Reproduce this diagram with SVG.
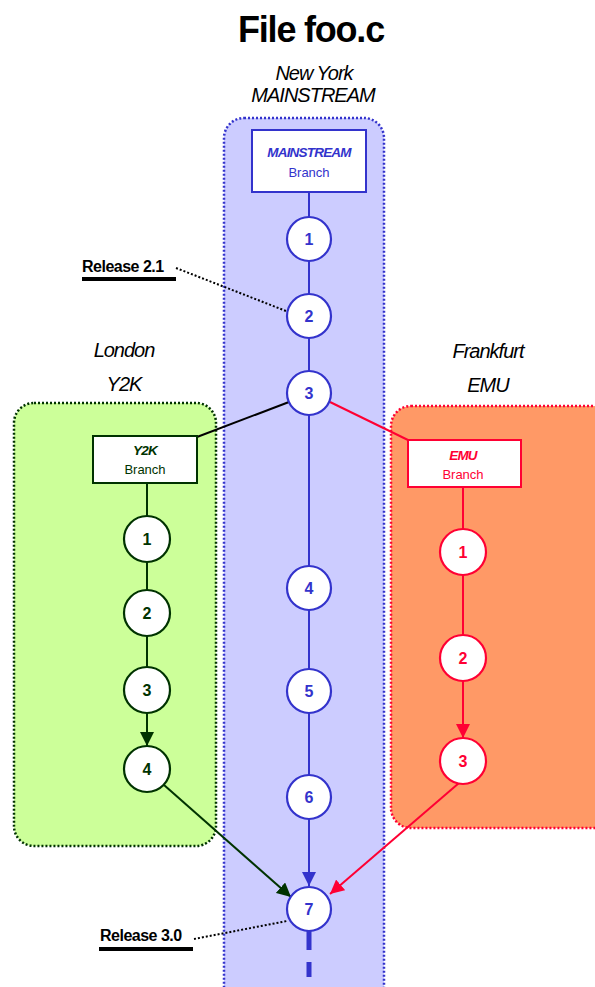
<svg xmlns="http://www.w3.org/2000/svg" width="595" height="987" viewBox="0 0 595 987">
<defs>
<style>
.t{font-family:"Liberation Sans",Arial,sans-serif}
.city{font-family:"Liberation Sans",Arial,sans-serif;font-style:italic;font-size:20px;fill:#000;text-anchor:middle;letter-spacing:-1px}
.num{font-family:"Liberation Sans",Arial,sans-serif;font-weight:bold;font-size:16px;text-anchor:middle}
.nb circle{fill:#fff;stroke:#3333cc;stroke-width:2.2}
.nb text{fill:#3333cc}
.ng circle{fill:#fff;stroke:#003300;stroke-width:2.2}
.ng text{fill:#003300}
.nr circle{fill:#fff;stroke:#ff0033;stroke-width:2.2}
.nr text{fill:#ff0033}
.rel{font-family:"Liberation Sans",Arial,sans-serif;font-weight:bold;font-size:16px;fill:#000;letter-spacing:-0.5px}
</style>
<marker id="ag" viewBox="0 0 10 10" refX="10" refY="5" markerWidth="14" markerHeight="14" orient="auto" markerUnits="userSpaceOnUse"><path d="M0,0 L10,5 L0,10 z" fill="#003300"/></marker>
<marker id="ar" viewBox="0 0 10 10" refX="10" refY="5" markerWidth="14" markerHeight="14" orient="auto" markerUnits="userSpaceOnUse"><path d="M0,0 L10,5 L0,10 z" fill="#ff0033"/></marker>
<marker id="ab2" viewBox="0 0 10 10" refX="10" refY="5" markerWidth="14" markerHeight="14" orient="auto" markerUnits="userSpaceOnUse"><path d="M0,0 L10,5 L0,10 z" fill="#3333cc"/></marker>
</defs>
<rect width="595" height="987" fill="#fff"/>

<g id="containers">
<rect x="224" y="118" width="160" height="890" rx="20" fill="#ccccff" stroke="#3333cc" stroke-width="2.5" stroke-dasharray="2,2"/>
<rect x="14" y="403" width="202" height="443" rx="20" fill="#ccff99" stroke="#003300" stroke-width="2.5" stroke-dasharray="2,2"/>
<rect x="391" y="406" width="230" height="422" rx="20" fill="#ff9966" stroke="#ff0033" stroke-width="2.5" stroke-dasharray="2,2"/>
</g>

<g id="titles">
<text x="311" y="42" class="t" font-size="36" font-weight="bold" text-anchor="middle" letter-spacing="-1.2">File foo.c</text>
<text x="314" y="80" class="city">New York</text>
<text x="313" y="102" class="city" letter-spacing="-1.5">MAINSTREAM</text>
<text x="124" y="357" class="city">London</text>
<text x="124" y="391" class="city">Y2K</text>
<text x="488" y="358" class="city">Frankfurt</text>
<text x="488" y="392" class="city">EMU</text>
</g>

<g id="connectors" fill="none" stroke-width="2">
<line x1="309" y1="191" x2="309" y2="217" stroke="#3333cc"/>
<line x1="309" y1="261" x2="309" y2="294" stroke="#3333cc"/>
<line x1="309" y1="338" x2="309" y2="371" stroke="#3333cc"/>
<line x1="309" y1="415" x2="309" y2="566" stroke="#3333cc"/>
<line x1="309" y1="610" x2="309" y2="669" stroke="#3333cc"/>
<line x1="309" y1="713" x2="309" y2="775" stroke="#3333cc"/>
<line x1="309" y1="819" x2="309" y2="886" stroke="#3333cc" marker-end="url(#ab2)"/>
<line x1="309" y1="931" x2="309" y2="950" stroke="#3333cc" stroke-width="5"/>
<line x1="309" y1="962" x2="309" y2="977" stroke="#3333cc" stroke-width="5"/>
<line x1="289" y1="402" x2="197" y2="437" stroke="#000"/>
<line x1="330" y1="402" x2="408" y2="440" stroke="#ff0033"/>
<line x1="147" y1="483" x2="147" y2="516" stroke="#003300"/>
<line x1="147" y1="562" x2="147" y2="590" stroke="#003300"/>
<line x1="147" y1="636" x2="147" y2="667" stroke="#003300"/>
<line x1="147" y1="713" x2="147" y2="746" stroke="#003300" marker-end="url(#ag)"/>
<line x1="164" y1="785" x2="291" y2="897" stroke="#003300" marker-end="url(#ag)"/>
<line x1="463" y1="488" x2="463" y2="529" stroke="#ff0033"/>
<line x1="463" y1="575" x2="463" y2="635" stroke="#ff0033"/>
<line x1="463" y1="681" x2="463" y2="738" stroke="#ff0033" marker-end="url(#ar)"/>
<line x1="459" y1="783" x2="330" y2="894" stroke="#ff0033" marker-end="url(#ar)"/>
<line x1="176" y1="268" x2="286" y2="311" stroke="#000" stroke-dasharray="2,2"/>
<line x1="194" y1="939" x2="287" y2="921" stroke="#000" stroke-dasharray="2,2"/>
</g>

<g id="release21">
<text x="82" y="272" class="rel">Release 2.1</text>
<rect x="82" y="277" width="94" height="4" fill="#000"/>
</g>
<g id="release30">
<text x="100" y="941" class="rel">Release 3.0</text>
<rect x="99" y="947" width="94" height="4" fill="#000"/>
</g>

<g id="mainstream_branch">
<rect x="252" y="130" width="114" height="62" fill="#fff" stroke="#3333cc" stroke-width="2"/>
<text x="309" y="157" class="t" font-size="13.5" font-weight="bold" font-style="italic" fill="#3333cc" text-anchor="middle" letter-spacing="-0.8">MAINSTREAM</text>
<text x="309" y="177" class="t" font-size="13" fill="#3333cc" text-anchor="middle">Branch</text>
</g>
<g id="y2k_branch">
<rect x="93" y="436" width="104" height="47" fill="#fff" stroke="#003300" stroke-width="2"/>
<text x="145" y="455" class="t" font-size="13.5" font-weight="bold" font-style="italic" fill="#003300" text-anchor="middle" letter-spacing="-0.8">Y2K</text>
<text x="145" y="474" class="t" font-size="13" fill="#003300" text-anchor="middle">Branch</text>
</g>
<g id="emu_branch">
<rect x="408" y="440" width="113" height="47" fill="#fff" stroke="#ff0033" stroke-width="2"/>
<text x="463" y="460" class="t" font-size="13.5" font-weight="bold" font-style="italic" fill="#ff0033" text-anchor="middle" letter-spacing="-0.8">EMU</text>
<text x="463" y="479" class="t" font-size="13" fill="#ff0033" text-anchor="middle">Branch</text>
</g>

<g id="m1" class="nb"><circle cx="309" cy="239" r="22"/><text x="309" y="245" class="num">1</text></g>
<g id="m2" class="nb"><circle cx="309" cy="316" r="22"/><text x="309" y="322" class="num">2</text></g>
<g id="m3" class="nb"><circle cx="309" cy="393" r="22"/><text x="309" y="399" class="num">3</text></g>
<g id="m4" class="nb"><circle cx="309" cy="588" r="22"/><text x="309" y="594" class="num">4</text></g>
<g id="m5" class="nb"><circle cx="309" cy="691" r="22"/><text x="309" y="697" class="num">5</text></g>
<g id="m6" class="nb"><circle cx="309" cy="797" r="22"/><text x="309" y="803" class="num">6</text></g>
<g id="m7" class="nb"><circle cx="309" cy="909" r="22"/><text x="309" y="915" class="num">7</text></g>

<g id="g1" class="ng"><circle cx="147" cy="539" r="23"/><text x="147" y="545" class="num">1</text></g>
<g id="g2" class="ng"><circle cx="147" cy="613" r="23"/><text x="147" y="619" class="num">2</text></g>
<g id="g3" class="ng"><circle cx="147" cy="690" r="23"/><text x="147" y="696" class="num">3</text></g>
<g id="g4" class="ng"><circle cx="147" cy="769" r="23"/><text x="147" y="775" class="num">4</text></g>

<g id="r1" class="nr"><circle cx="463" cy="552" r="23"/><text x="463" y="558" class="num">1</text></g>
<g id="r2" class="nr"><circle cx="463" cy="658" r="23"/><text x="463" y="664" class="num">2</text></g>
<g id="r3" class="nr"><circle cx="463" cy="761" r="23"/><text x="463" y="767" class="num">3</text></g>
</svg>
